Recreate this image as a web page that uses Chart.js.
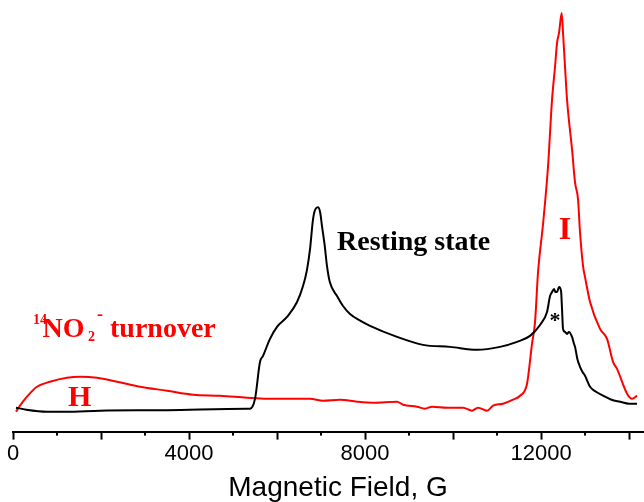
<!DOCTYPE html>
<html><head><meta charset="utf-8">
<script src="https://cdn.jsdelivr.net/npm/chart.js@4"></script>
<style>html,body{margin:0;padding:0;background:#fff;overflow:hidden}</style>
</head><body>
<canvas id="c" width="644" height="502"></canvas>
<script>
// ---- data (field in G, signal in arbitrary units) ----
const blackField  = [68, 300, 773, 1200, 1977, 3500, 5318, 5386, 5500, 5614, 5682, 5841, 6000, 6227, 6455, 6591, 6680, 6750, 6818, 6870, 6932, 6980, 7023, 7080, 7136, 7200, 7364, 7500, 7659, 7900, 8114, 8727, 9318, 9932, 10545, 11068, 11455, 11750, 11977, 12136, 12205, 12250, 12295, 12330, 12364, 12409, 12455, 12477, 12500, 12545, 12591, 12636, 12705, 12750, 12773, 12830, 12886, 12940, 13000, 13060, 13114, 13250, 13409, 13600, 13795, 14000, 14182];
const blackSignal = [24, 22, 20, 20, 21, 21.5, 23, 23, 33, 70, 76, 93, 105, 115, 130, 146, 162, 183, 213, 223, 225, 220, 206, 188, 166, 150, 136, 126, 118, 111, 106, 95, 87, 85, 82, 85, 90, 96, 107, 120, 136, 140, 143, 140, 140, 145, 141, 123, 103, 100, 98, 100, 95, 88, 85, 72, 65, 60, 56, 50, 45, 40, 36, 32, 30, 28, 28];

const redField  = [68, 159, 318, 545, 841, 1227, 1523, 1909, 2364, 2886, 3500, 4091, 4705, 5318, 5773, 6295, 6750, 7045, 7432, 7818, 8182, 8727, 8864, 9182, 9364, 9523, 9864, 10227, 10432, 10568, 10773, 10909, 11136, 11364, 11523, 11682, 11795, 11864, 11932, 12045, 12159, 12250, 12318, 12364, 12409, 12470, 12500, 12545, 12591, 12705, 12773, 12841, 12886, 12955, 13000, 13114, 13341, 13500, 13636, 13727, 13955, 14068, 14182];
const redSignal = [20, 26, 35, 45, 50, 54, 55, 54, 50, 45, 41, 37, 36, 34, 33, 33, 33, 31, 32, 30, 29, 30, 27, 25, 23, 25, 24, 24, 21, 24, 21, 26, 28, 32, 36, 48, 88, 110, 160, 208, 266, 333, 366, 390, 400, 420, 400, 366, 333, 283, 250, 233, 200, 166, 155, 130, 103, 93, 70, 63, 38, 33, 36];

const xTickValues = [0, 1000, 2000, 3000, 4000, 5000, 6000, 7000, 8000, 9000, 10000, 11000, 12000, 13000, 14000];
const xTickLabels = [0, 4000, 8000, 12000];
const axisTitle = 'Magnetic Field, G';
const blackName = 'Resting state';
const redName = ['14', 'NO', '2', '-', 'turnover'];

function pairs(xs, ys) { return xs.map((x, i) => ({x: x, y: ys[i]})); }

// text annotations, anchored in data units
const labels = [
  {text: 'Resting state', x: 7364, y: 182, size: 28, color: '#000', align: 'left'},
  {text: 'I', x: 12545, y: 193, size: 32, color: '#ff0000', align: 'center'},
  {text: 'H', x: 1250, y: 26, size: 30, color: '#ff0000', align: 'left'},
  {text: '*', x: 12318, y: 105, size: 22, color: '#000', align: 'center'}
];
const richLabel = {x: 455, y: 95, color: '#ff0000',
  runs: [
    {t: redName[0], size: 14, dx: 0, dy: -13},
    {t: redName[1], size: 28, dx: 9.5, dy: 0},
    {t: redName[2], size: 14, dx: 55, dy: 4},
    {t: redName[3], size: 18, dx: 64, dy: -17},
    {t: redName[4], size: 28, dx: 77, dy: 0}
  ]};

const decor = {
  id: 'decor',
  afterDraw(chart) {
    const ctx = chart.ctx, xs = chart.scales.x, ys = chart.scales.y;
    ctx.save();
    // minor ticks
    ctx.strokeStyle = '#000'; ctx.lineWidth = 2;
    xs.ticks.forEach(t => {
      if (t.value % 2000 !== 0) {
        const px = xs.getPixelForValue(t.value);
        ctx.beginPath(); ctx.moveTo(px, xs.top); ctx.lineTo(px, xs.top + 4); ctx.stroke();
      }
    });
    // text labels
    ctx.textBaseline = 'alphabetic';
    labels.forEach(l => {
      ctx.font = 'bold ' + l.size + 'px "Liberation Serif"';
      ctx.fillStyle = l.color; ctx.textAlign = l.align;
      ctx.fillText(l.text, xs.getPixelForValue(l.x), ys.getPixelForValue(l.y));
    });
    const bx = xs.getPixelForValue(richLabel.x), by = ys.getPixelForValue(richLabel.y);
    ctx.fillStyle = richLabel.color; ctx.textAlign = 'left';
    richLabel.runs.forEach(r => {
      ctx.font = 'bold ' + r.size + 'px "Liberation Serif"';
      ctx.fillText(r.t, bx + r.dx, by + r.dy);
    });
    // axis title
    ctx.font = '28px "Liberation Sans"';
    ctx.fillStyle = '#000'; ctx.textAlign = 'center';
    ctx.fillText(axisTitle, xs.getPixelForValue(7386), 496);
    ctx.restore();
  }
};

new Chart(document.getElementById('c'), {
  type: 'line',
  data: {
    datasets: [
      {label: blackName, data: pairs(blackField, blackSignal), borderColor: '#000', backgroundColor: '#000', cubicInterpolationMode: 'monotone'},
      {label: '14NO2- turnover', data: pairs(redField, redSignal), borderColor: '#ff0000', backgroundColor: '#ff0000', cubicInterpolationMode: 'monotone'}
    ]
  },
  options: {
    responsive: false, animation: false, devicePixelRatio: 1,
    layout: {padding: {left: 13, right: 0, top: 0, bottom: 34}},
    plugins: {legend: {display: false}, tooltip: {enabled: false}},
    elements: {point: {radius: 0}, line: {borderWidth: 2, tension: 0}},
    scales: {
      x: {
        type: 'linear', min: 0, max: 14340,
        afterBuildTicks: s => { s.ticks = xTickValues.map(v => ({value: v})); },
        border: {display: true, color: '#000', width: 2},
        grid: {display: true, drawOnChartArea: false, drawTicks: true, tickLength: 8, tickWidth: 2,
               tickColor: c => (c.tick && c.tick.value % 2000 === 0) ? '#000' : 'rgba(0,0,0,0)'},
        ticks: {autoSkip: false, maxRotation: 0, padding: 1,
                color: '#000', font: {family: 'Liberation Sans', size: 22},
                callback: v => xTickLabels.includes(v) ? String(v) : ''}
      },
      y: {display: false, min: 0, max: 433}
    }
  },
  plugins: [decor]
});
</script>
</body></html>
